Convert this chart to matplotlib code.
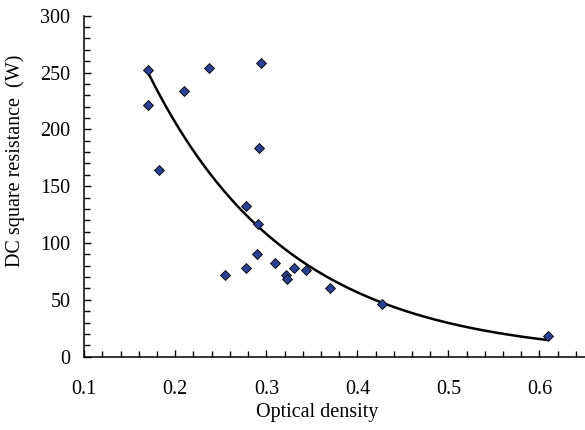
import numpy as np
import matplotlib
matplotlib.use("Agg")
import matplotlib.pyplot as plt
from matplotlib.ticker import MultipleLocator

X_TITLE = "Optical density"
Y_TITLE = "DC square resistance  (W)"

# measured points
optical_density = [0.170, 0.170, 0.182, 0.210, 0.237, 0.278, 0.291, 0.292,
                   0.294, 0.255, 0.278, 0.290, 0.309, 0.322, 0.323, 0.330,
                   0.344, 0.370, 0.427, 0.609]
resistance = [252, 221, 164, 234, 254, 133, 117, 184,
              258, 72, 78, 90, 82, 72, 68, 78,
              76, 60, 46, 18.5]

# exponential trend line y = a * exp(b * x)
TREND_A = 750.0
TREND_B = -6.46
TREND_RANGE = (0.171, 0.609)

MARKER_COLOR = "#2b4190"
FONT = ["Liberation Serif", "DejaVu Serif"]
FONT_SIZE = 14.5


def set_axes_style(ax):
    ax.spines["top"].set_visible(False)
    ax.spines["right"].set_visible(False)
    for side in ("left", "bottom"):
        ax.spines[side].set_linewidth(1.1)
    ax.set_xlim(0.1, 0.65)
    ax.set_ylim(0, 300)
    ax.xaxis.set_major_locator(MultipleLocator(0.1))
    ax.xaxis.set_minor_locator(MultipleLocator(0.02))
    ax.yaxis.set_major_locator(MultipleLocator(50))
    ax.yaxis.set_minor_locator(MultipleLocator(10))
    ax.tick_params(which="both", direction="in", width=1.0)
    ax.tick_params(which="major", length=5)
    ax.tick_params(which="minor", length=4)
    ax.tick_params(axis="x", which="major", pad=17, labelsize=FONT_SIZE)
    ax.tick_params(axis="y", which="major", pad=10, labelsize=FONT_SIZE)
    ax.set_xticklabels([f"{v:.1f}" for v in ax.get_xticks()])


def main():
    plt.rcParams["font.family"] = FONT
    fig = plt.figure(figsize=(5.85, 4.3), dpi=100)
    ax = fig.add_axes([0.144, 0.1705, 0.856, 0.793])

    xs = np.linspace(TREND_RANGE[0], TREND_RANGE[1], 200)
    ax.plot(xs, TREND_A * np.exp(TREND_B * xs), color="black", lw=1.8, zorder=2)

    ax.plot(optical_density, resistance, linestyle="none", marker="D",
            markersize=4.8, markerfacecolor=MARKER_COLOR,
            markeredgecolor="black", markeredgewidth=0.6, zorder=3,
            clip_on=False)

    set_axes_style(ax)
    ax.set_xlabel(X_TITLE, fontsize=FONT_SIZE)
    ax.set_ylabel(Y_TITLE, fontsize=FONT_SIZE)
    ax.xaxis.set_label_coords(0.465, -0.165)
    ax.yaxis.set_label_coords(-0.138, 0.574)
    ax.yaxis.label.set_va("center")
    ax.xaxis.label.set_va("center")

    fig.savefig("out.png", dpi=100)


if __name__ == "__main__":
    main()
